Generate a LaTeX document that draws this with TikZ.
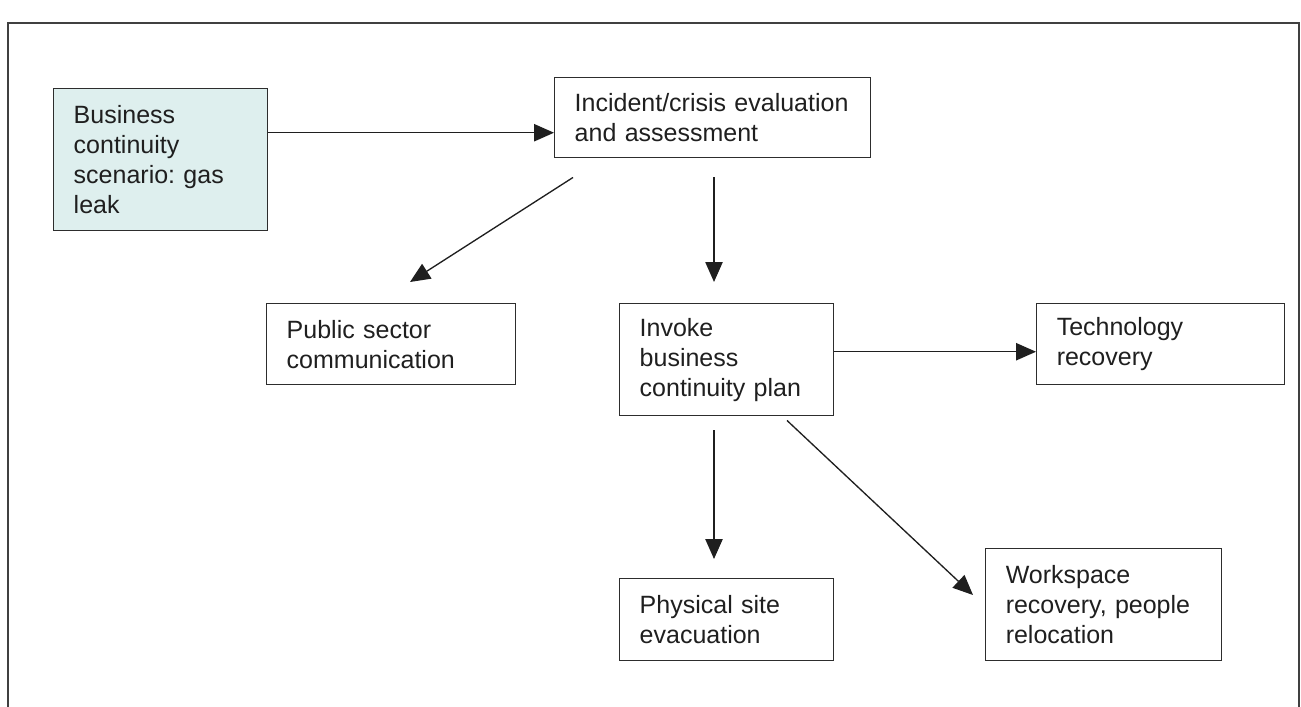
\documentclass[tikz,border=0pt]{standalone}
\usepackage{fontspec}
\setmainfont{Liberation Sans}
\usepackage{tikz}
\usetikzlibrary{arrows.meta,positioning,calc}
\definecolor{scenariofill}{RGB}{222,239,238}
\definecolor{boxline}{RGB}{45,45,45}
\frenchspacing

\begin{document}
\begin{tikzpicture}[x=0.75pt, y=-0.75pt,
  box/.style={rectangle, draw=boxline, line width=1.1pt, anchor=north west, inner xsep=15pt, align=left, text=black!88, font=\fontsize{18.75}{22.5}\selectfont},
  arr/.style={-{Triangle[length=15pt,width=13pt]}, line width=1pt, black!88},
  frame/.style={draw=black!75, line width=1.8pt}]
\useasboundingbox (0,0) rectangle (1301,706);
\draw [frame] (8,712) -- (8,23) -- (1299,23) -- (1299,712);
\node (scenario) at (53, 88) [box, fill=scenariofill, text width=130.5pt, minimum height=106.5pt] {Business\\continuity\\scenario: gas\\leak};
\node (incident) at (554, 77) [box, text width=207pt, minimum height=60pt] {Incident/crisis evaluation\\and assessment};
\node (public) at (266, 303) [box, text width=156.75pt, minimum height=60.75pt] {Public sector\\communication};
\node (invoke) at (619, 303) [box, text width=130.5pt, minimum height=84pt] {Invoke\\business\\continuity plan};
\node (tech) at (1036, 303) [box, text width=156pt, minimum height=60.75pt] {Technology\\recovery};
\node (physical) at (619, 578) [box, text width=130.5pt, minimum height=61.5pt] {Physical site\\evacuation};
\node (workspace) at (985, 548) [box, text width=147pt, minimum height=84pt] {Workspace\\recovery, people\\relocation};
\draw [arr] ([shift={(0,-27)}]scenario.east) coordinate (s1) -- (s1 -| incident.west);
\draw [arr] ([shift={(19,19)}]incident.south west) -- ([shift={(144,-21)}]public.north west);
\draw [arr] ([shift={(160,19)}]incident.south west) -- ([shift={(95,-21)}]invoke.north west);
\draw [arr] ([shift={(0,-8)}]invoke.east) coordinate (s2) -- (s2 -| tech.west);
\draw [arr] ([shift={(95,14)}]invoke.south west) -- ([shift={(95,-19)}]physical.north west);
\draw [arr] ([shift={(168,4)}]invoke.south west) -- ([shift={(-12,47)}]workspace.north west);
\end{tikzpicture}
\end{document}
